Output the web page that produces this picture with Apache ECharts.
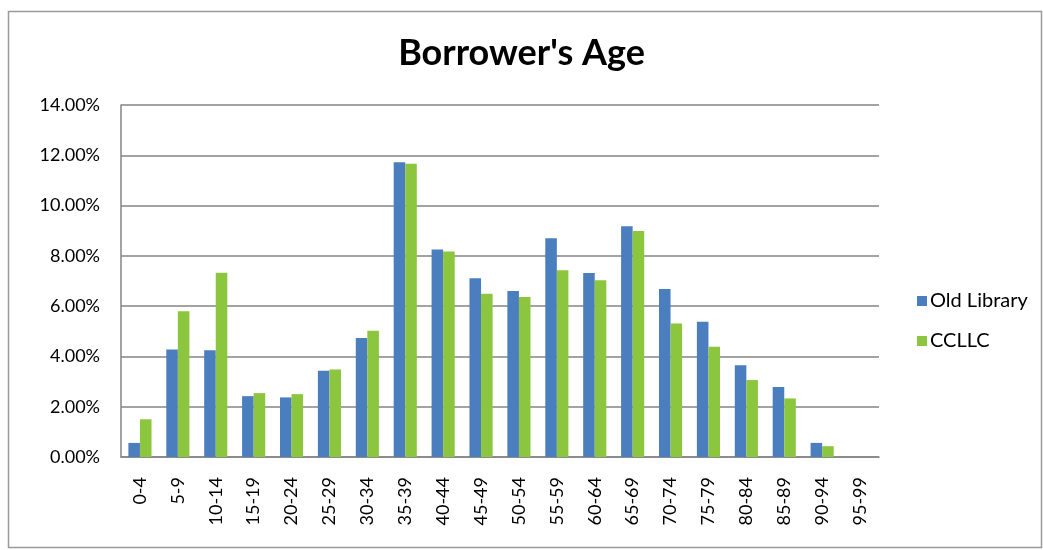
<!DOCTYPE html>
<html>
<head>
<meta charset="utf-8">
<title>Borrower's Age</title>
<script src="https://cdn.jsdelivr.net/npm/echarts@6/dist/echarts.min.js"></script>
<style>
  html, body { margin: 0; padding: 0; background: #ffffff; }
  #chart { width: 1043px; height: 550px; }
</style>
</head>
<body>
<div id="chart"></div>
<script>
// Age bands of borrowers
const ageBands = ['0-4', '5-9', '10-14', '15-19', '20-24', '25-29', '30-34', '35-39', '40-44', '45-49',
  '50-54', '55-59', '60-64', '65-69', '70-74', '75-79', '80-84', '85-89', '90-94', '95-99'];

// Share of borrowers per age band (percent)
const oldLibrary = [0.56, 4.28, 4.25, 2.42, 2.37, 3.43, 4.73, 11.72, 8.25, 7.11,
  6.60, 8.70, 7.32, 9.18, 6.68, 5.38, 3.65, 2.78, 0.56, 0];
const cclLc = [1.50, 5.80, 7.33, 2.54, 2.50, 3.48, 5.02, 11.66, 8.17, 6.49,
  6.36, 7.43, 7.03, 8.99, 5.31, 4.38, 3.06, 2.33, 0.43, 0];

const seriesNames = ['Old Library', 'CCLLC'];

const FONT = 'Lato, "Open Sans", sans-serif';
const GRID_COLOR = '#858585';

const chart = echarts.init(document.getElementById('chart'), null, { renderer: 'canvas' });

chart.setOption({
  backgroundColor: '#ffffff',
  animation: false,
  title: {
    text: "Borrower's Age",
    left: 'center',
    top: 30,
    textStyle: { fontFamily: FONT, fontSize: 36, fontWeight: 'bold', color: '#000000' }
  },
  graphic: [{
    type: 'rect',
    shape: { x: 8.5, y: 11.5, width: 1033, height: 536 },
    style: { fill: 'none', stroke: '#9a9a9a', lineWidth: 1.5 },
    silent: true,
    z: -1
  }],
  legend: {
    orient: 'vertical',
    left: 912,
    top: 286,
    itemWidth: 10,
    itemHeight: 10,
    itemGap: 20,
    icon: 'rect',
    textStyle: { fontFamily: FONT, fontSize: 20, color: '#000000', padding: [0, 0, 0, -2] },
    data: seriesNames
  },
  grid: { left: 121, right: 164, top: 105, bottom: 93 },
  xAxis: {
    type: 'category',
    data: ageBands,
    axisLine: { show: true, lineStyle: { color: GRID_COLOR, width: 1.5 } },
    axisTick: { show: false },
    axisLabel: {
      rotate: 90,
      margin: 20,
      fontFamily: FONT,
      fontSize: 18,
      color: '#000000'
    }
  },
  yAxis: {
    type: 'value',
    min: 0,
    max: 14,
    interval: 2,
    axisLine: { show: true, lineStyle: { color: GRID_COLOR, width: 1.5 } },
    axisTick: { show: false },
    splitLine: { show: true, lineStyle: { color: GRID_COLOR, width: 1.5 } },
    axisLabel: {
      margin: 21,
      fontFamily: FONT,
      fontSize: 18,
      color: '#000000',
      formatter: v => v.toFixed(2) + '%'
    }
  },
  series: [
    {
      name: seriesNames[0],
      type: 'bar',
      data: oldLibrary,
      barGap: '0%',
      barCategoryGap: '39%',
      itemStyle: { color: '#4a7ebe' }
    },
    {
      name: seriesNames[1],
      type: 'bar',
      data: cclLc,
      barGap: '0%',
      barCategoryGap: '39%',
      itemStyle: { color: '#8cc63e' }
    }
  ]
});
</script>
</body>
</html>
